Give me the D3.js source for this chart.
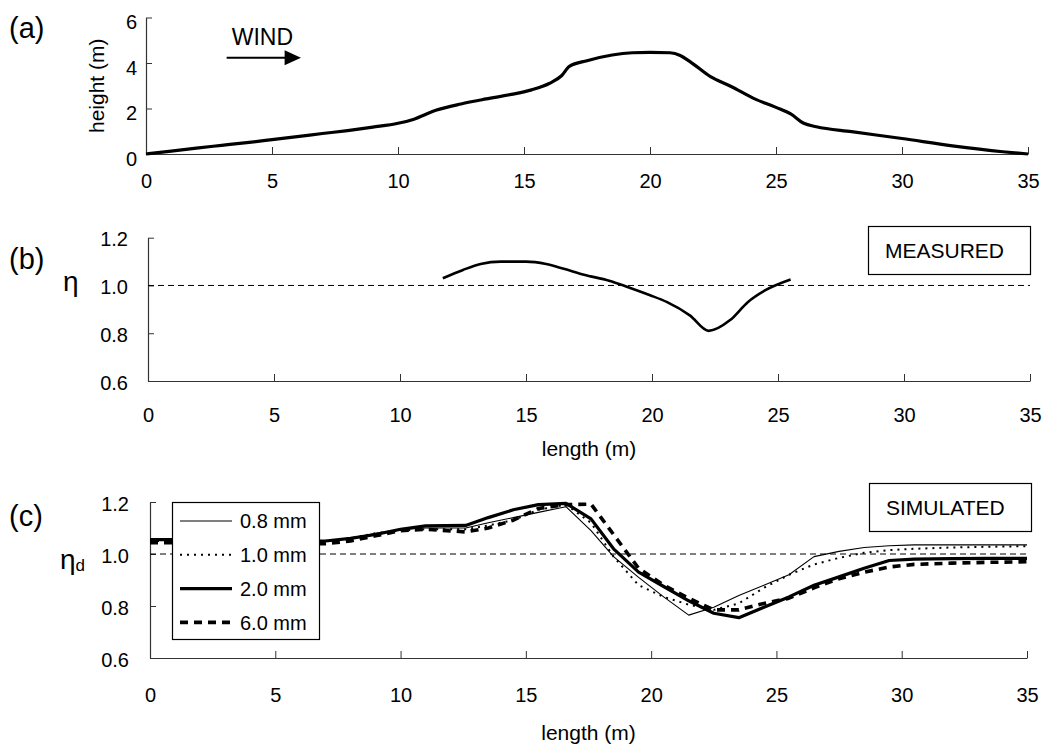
<!DOCTYPE html>
<html>
<head>
<meta charset="utf-8">
<script src="https://cdn.jsdelivr.net/npm/d3@7"></script>
<style>
  body { margin: 0; background: #fff; }
  svg { font-family: "Liberation Sans", Arial, sans-serif; }
</style>
</head>
<body>
<svg id="chart" width="1046" height="746"></svg>
<script>
// tick values
const lengthTicks = [0, 5, 10, 15, 20, 25, 30, 35];
const heightTicks = [0, 2, 4, 6];
const etaTicks = [0.6, 0.8, 1.0, 1.2];

// (a) dune profile
const profileX = [0, 1, 2, 3, 4, 5, 6, 7, 8, 9, 10, 10.6, 11.5, 12.5, 13.5, 14.5, 15.3, 16, 16.5, 16.8, 17.5, 18.5, 19.3, 20, 20.8, 21.2, 21.6, 22.4, 23.2, 24.2, 25, 25.6, 26.1, 26.6, 28, 30, 32, 34, 35];
const profileH = [0, 0.13, 0.26, 0.38, 0.5, 0.63, 0.76, 0.9, 1.03, 1.18, 1.35, 1.52, 1.92, 2.2, 2.42, 2.62, 2.82, 3.1, 3.45, 3.85, 4.1, 4.35, 4.45, 4.47, 4.45, 4.33, 4.05, 3.4, 2.98, 2.4, 2.05, 1.75, 1.35, 1.2, 0.98, 0.68, 0.36, 0.1, 0];

// (b) measured
const measuredX = [11.7, 12.5, 13.2, 14.0, 15.0, 15.8, 16.5, 17.3, 18.3, 19.0, 19.9, 20.6, 21.5, 22.25, 23.1, 23.8, 24.5, 25.5];
const measuredEta = [1.03, 1.065, 1.09, 1.10, 1.10, 1.09, 1.07, 1.045, 1.02, 0.995, 0.96, 0.93, 0.875, 0.81, 0.855, 0.93, 0.98, 1.025];

// (c) simulated
const simX = [0, 1, 2, 3, 4, 5, 6, 7, 8, 9, 10, 11, 12.6, 13.5, 14.5, 15.5, 16.6, 17.6, 18.5, 19.5, 20.5, 21.5, 22.5, 23.5, 24.5, 25.5, 26.5, 27.5, 28.5, 29.5, 30.5, 32, 33.5, 35];
const sim08 = [1.055, 1.055, 1.05, 1.05, 1.05, 1.05, 1.05, 1.05, 1.06, 1.08, 1.095, 1.10, 1.10, 1.12, 1.14, 1.16, 1.182, 1.09, 0.99, 0.91, 0.835, 0.765, 0.795, 0.84, 0.88, 0.92, 0.99, 1.01, 1.025, 1.032, 1.035, 1.035, 1.035, 1.035];
const sim10 = [1.05, 1.05, 1.05, 1.05, 1.05, 1.05, 1.05, 1.05, 1.06, 1.08, 1.09, 1.095, 1.095, 1.11, 1.13, 1.17, 1.19, 1.12, 0.99, 0.88, 0.835, 0.805, 0.785, 0.81, 0.87, 0.92, 0.96, 0.985, 1.005, 1.015, 1.02, 1.025, 1.028, 1.03];
const sim20 = [1.055, 1.055, 1.05, 1.05, 1.05, 1.05, 1.05, 1.05, 1.06, 1.075, 1.095, 1.108, 1.11, 1.14, 1.17, 1.19, 1.195, 1.135, 1.02, 0.93, 0.875, 0.82, 0.772, 0.755, 0.795, 0.835, 0.88, 0.912, 0.945, 0.975, 0.98, 0.982, 0.983, 0.983];
const sim60 = [1.043, 1.043, 1.042, 1.042, 1.04, 1.04, 1.04, 1.04, 1.05, 1.07, 1.09, 1.095, 1.085, 1.10, 1.13, 1.175, 1.19, 1.192, 1.075, 0.945, 0.88, 0.83, 0.785, 0.785, 0.81, 0.83, 0.87, 0.905, 0.93, 0.95, 0.96, 0.965, 0.968, 0.97];
const simLabels = ["0.8 mm", "1.0 mm", "2.0 mm", "6.0 mm"];

const svg = d3.select("#chart");

const fmtInt = d3.format("d");
const fmt1 = d3.format(".1f");

function drawAxes(x, y, yTicks, yFmt, xLabOff, yLabOff, yDy) {
  const xa = svg.append("g")
    .attr("transform", "translate(0," + y.range()[0] + ")")
    .call(d3.axisBottom(x).tickValues(lengthTicks).tickSizeInner(-7).tickSizeOuter(0).tickFormat(fmtInt));
  xa.selectAll("text").attr("y", xLabOff).attr("dy", 0);

  const ya = svg.append("g")
    .attr("transform", "translate(" + x.range()[0] + ",0)")
    .call(d3.axisLeft(y).tickValues(yTicks).tickSizeInner(-6).tickSizeOuter(0).tickFormat(yFmt));
  ya.selectAll("text").attr("x", -yLabOff).attr("dy", yDy);

  [xa, ya].forEach(a => {
    a.attr("font-size", 20).attr("font-family", null);
    a.select(".domain").attr("stroke", "#333").attr("stroke-width", 1.2);
    a.selectAll(".tick line").attr("stroke", "#333");
    a.selectAll("text").attr("fill", "#000");
  });
}

function panelLabel(txt, px, py) {
  svg.append("text").attr("x", px).attr("y", py).attr("font-size", 29).text(txt);
}

// ---------- (a) ----------
const xA = d3.scaleLinear().domain([0, 35]).range([146, 1028]);
const yA = d3.scaleLinear().domain([0, 6]).range([154, 17.5]);
drawAxes(xA, yA, heightTicks, fmtInt, 34, 9, "0.55em");

svg.append("path")
  .datum(profileX.map((d, i) => [d, profileH[i]]))
  .attr("fill", "none")
  .attr("stroke", "#000")
  .attr("stroke-width", 3.2)
  .attr("stroke-linejoin", "round")
  .attr("d", d3.line().x(d => xA(d[0])).y(d => yA(d[1])).curve(d3.curveMonotoneX));

panelLabel("(a)", 9, 38);
svg.append("text")
  .attr("transform", "translate(104," + (yA(3)) + ") rotate(-90)")
  .attr("text-anchor", "middle")
  .attr("font-size", 21)
  .text("height (m)");

// wind arrow
svg.append("text").attr("x", xA(3.4)).attr("y", yA(4.8)).attr("font-size", 23).text("WIND");
svg.append("line")
  .attr("x1", xA(3.2)).attr("x2", xA(5.6))
  .attr("y1", yA(4.23)).attr("y2", yA(4.23))
  .attr("stroke", "#000").attr("stroke-width", 2);
svg.append("path")
  .attr("d", "M" + xA(5.5) + "," + (yA(4.23) - 7.5) + "L" + xA(6.15) + "," + yA(4.23) + "L" + xA(5.5) + "," + (yA(4.23) + 7.5) + "Z")
  .attr("fill", "#000");

// ---------- (b) ----------
const xB = d3.scaleLinear().domain([0, 35]).range([148, 1030]);
const yB = d3.scaleLinear().domain([0.6, 1.2]).range([381, 237.7]);
drawAxes(xB, yB, etaTicks, fmt1, 41, 20, "0.4em");

svg.append("line")
  .attr("x1", xB(0)).attr("x2", xB(35))
  .attr("y1", yB(1)).attr("y2", yB(1))
  .attr("stroke", "#000").attr("stroke-width", 1)
  .attr("stroke-dasharray", "6,4");

svg.append("path")
  .datum(measuredX.map((d, i) => [d, measuredEta[i]]))
  .attr("fill", "none")
  .attr("stroke", "#000")
  .attr("stroke-width", 2.6)
  .attr("stroke-linejoin", "round")
  .attr("d", d3.line().x(d => xB(d[0])).y(d => yB(d[1])).curve(d3.curveMonotoneX));

panelLabel("(b)", 9, 269);
svg.append("text").attr("x", 63).attr("y", 291).attr("font-size", 28).text("η");
svg.append("text")
  .attr("x", xB(17.5)).attr("y", 456)
  .attr("text-anchor", "middle").attr("font-size", 21)
  .text("length (m)");

svg.append("rect")
  .attr("x", 868.5).attr("y", 226.5).attr("width", 162).attr("height", 48)
  .attr("fill", "#fff").attr("stroke", "#000").attr("stroke-width", 1.2);
svg.append("text").attr("x", 885).attr("y", 258).attr("font-size", 21).text("MEASURED");

// ---------- (c) ----------
const xC = d3.scaleLinear().domain([0, 35]).range([150, 1027]);
const yC = d3.scaleLinear().domain([0.6, 1.2]).range([658, 502]);
drawAxes(xC, yC, etaTicks, fmt1, 44, 21, "0.42em");

svg.append("line")
  .attr("x1", xC(0)).attr("x2", xC(35))
  .attr("y1", yC(1)).attr("y2", yC(1))
  .attr("stroke", "#000").attr("stroke-width", 1)
  .attr("stroke-dasharray", "6,4");

const simSeries = [
  { name: simLabels[0], values: sim08, width: 1.1, dash: null },
  { name: simLabels[1], values: sim10, width: 2, dash: "2,5" },
  { name: simLabels[2], values: sim20, width: 3.2, dash: null },
  { name: simLabels[3], values: sim60, width: 3.6, dash: "8,6" }
];

const simLine = d3.line().x(d => xC(d[0])).y(d => yC(d[1]));
svg.append("g").selectAll("path")
  .data(simSeries.slice().reverse())
  .enter()
  .append("path")
  .attr("fill", "none")
  .attr("stroke", "#000")
  .attr("stroke-width", d => d.width)
  .attr("stroke-dasharray", d => d.dash)
  .attr("stroke-linejoin", "round")
  .attr("d", d => simLine(simX.map((x, i) => [x, d.values[i]])));

// legend
svg.append("rect")
  .attr("x", 172.5).attr("y", 502.5).attr("width", 147).attr("height", 137)
  .attr("fill", "#fff").attr("stroke", "#000").attr("stroke-width", 1.2);
const leg = svg.append("g").selectAll("g")
  .data(simSeries)
  .enter()
  .append("g")
  .attr("transform", (d, i) => "translate(0," + (521 + i * 33.8) + ")");
leg.append("line")
  .attr("x1", 180).attr("x2", 232)
  .attr("stroke", "#000")
  .attr("stroke-width", d => d.width)
  .attr("stroke-dasharray", d => d.dash);
leg.append("text")
  .attr("x", 240).attr("dy", "0.36em")
  .attr("font-size", 20)
  .text(d => d.name);

panelLabel("(c)", 9, 526);
svg.append("text").attr("x", 60).attr("y", 569).attr("font-size", 28)
  .text("η")
  .append("tspan").attr("font-size", 17).attr("dy", 2).text("d");
svg.append("text")
  .attr("x", xC(17.5)).attr("y", 740)
  .attr("text-anchor", "middle").attr("font-size", 21)
  .text("length (m)");

svg.append("rect")
  .attr("x", 869.5).attr("y", 483.5).attr("width", 162).attr("height", 48)
  .attr("fill", "#fff").attr("stroke", "#000").attr("stroke-width", 1.2);
svg.append("text").attr("x", 886).attr("y", 515).attr("font-size", 21).text("SIMULATED");
</script>
</body>
</html>
